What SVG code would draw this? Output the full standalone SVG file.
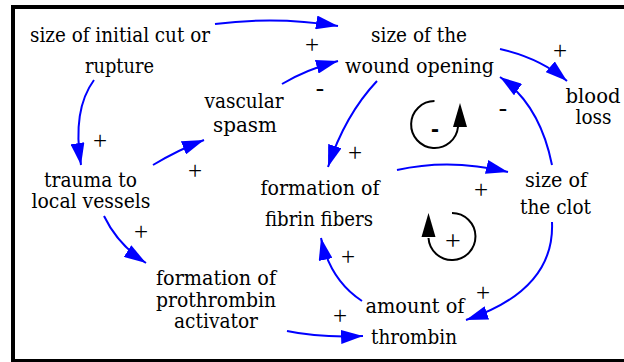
<svg xmlns="http://www.w3.org/2000/svg" width="624" height="362" viewBox="0 0 624 362">
<style>
.n{font-family:'DejaVu Serif',serif;font-size:21px;fill:#000;text-anchor:middle}
.s{font-family:'Liberation Serif',serif;font-size:25px;fill:#000;text-anchor:middle}
.c{fill:none;stroke:#0000ff;stroke-width:2;marker-end:url(#ah)}
.l{fill:none;stroke:#000;stroke-width:2}
</style>
<defs>
<marker id="ah" viewBox="0 0 22 14" refX="22" refY="7" markerWidth="22" markerHeight="14" markerUnits="userSpaceOnUse" orient="auto">
<path d="M0,0 L22,7 L0,14 z" fill="#0000ff"/>
</marker>
</defs>
<rect x="13" y="7" width="620" height="354" fill="#fff" stroke="#000" stroke-width="4"/>
<g id="connectors">
<path class="c" d="M215,24 Q277,16 338,26"/>
<path class="c" d="M94,80 Q72,110 81,165"/>
<path class="c" d="M153,165 Q178,150 204,140"/>
<path class="c" d="M282,84 Q305,70 338,61"/>
<path class="c" d="M500,49 Q540,58 567,81"/>
<path class="c" d="M377,81 Q345,115 328,167"/>
<path class="c" d="M397,170 Q450,158 508,172"/>
<path class="c" d="M552,165 Q540,105 500,77"/>
<path class="c" d="M552,222 Q555,290 466,320"/>
<path class="c" d="M362,301 Q330,280 321,238"/>
<path class="c" d="M287,331 Q320,338 363,336"/>
<path class="c" d="M104,216 Q118,245 146,263"/>
</g>
<g id="polarities">
<text class="s" x="312" y="53">+</text>
<text class="s" x="100" y="149">+</text>
<text class="s" x="195" y="179">+</text>
<text class="s" x="320" y="96">-</text>
<text class="s" x="560" y="59">+</text>
<text class="s" x="503" y="116">-</text>
<text class="s" x="355" y="161">+</text>
<text class="s" x="481" y="198">+</text>
<text class="s" x="348" y="265">+</text>
<text class="s" x="483" y="301">+</text>
<text class="s" x="340" y="324">+</text>
<text class="s" x="141" y="240">+</text>
</g>
<g id="loop-balancing">
<path class="l" d="M434.5,101 A23.5,23.5 0 1 0 458,127"/>
<path d="M460,103 L467,127 L453,127 z" fill="#000"/>
<text x="435" y="137" font-family="Liberation Sans, Arial, sans-serif" font-size="24" font-weight="bold" text-anchor="middle">-</text>
</g>
<g id="loop-reinforcing">
<path class="l" d="M452,213 A23.5,23.5 0 1 1 428.5,238"/>
<path d="M428.5,213 L435.5,237 L421.5,237 z" fill="#000"/>
<text x="453" y="250" font-family="Liberation Serif, serif" font-size="28" text-anchor="middle">+</text>
</g>
<g id="node-cut"><text class="n" x="120" y="42" textLength="180" lengthAdjust="spacingAndGlyphs">size of initial cut or</text><text class="n" x="119.5" y="73" textLength="69" lengthAdjust="spacingAndGlyphs">rupture</text></g>
<g id="node-wound"><text class="n" x="419" y="42" textLength="96" lengthAdjust="spacingAndGlyphs">size of the</text><text class="n" x="419.5" y="73" textLength="149" lengthAdjust="spacingAndGlyphs">wound opening</text></g>
<g id="node-blood"><text class="n" x="593" y="103" textLength="55" lengthAdjust="spacingAndGlyphs">blood</text><text class="n" x="593.5" y="124" textLength="36" lengthAdjust="spacingAndGlyphs">loss</text></g>
<g id="node-spasm"><text class="n" x="244" y="108" textLength="79" lengthAdjust="spacingAndGlyphs">vascular</text><text class="n" x="245" y="131.5" textLength="64" lengthAdjust="spacingAndGlyphs">spasm</text></g>
<g id="node-trauma"><text class="n" x="90.5" y="187" textLength="93" lengthAdjust="spacingAndGlyphs">trauma to</text><text class="n" x="91" y="208" textLength="119" lengthAdjust="spacingAndGlyphs">local vessels</text></g>
<g id="node-prothrombin"><text class="n" x="216" y="285" textLength="120" lengthAdjust="spacingAndGlyphs">formation of</text><text class="n" x="216" y="306.5" textLength="120" lengthAdjust="spacingAndGlyphs">prothrombin</text><text class="n" x="216" y="328" textLength="84" lengthAdjust="spacingAndGlyphs">activator</text></g>
<g id="node-fibrin"><text class="n" x="320" y="195" textLength="119" lengthAdjust="spacingAndGlyphs">formation of</text><text class="n" x="319" y="226" textLength="108" lengthAdjust="spacingAndGlyphs">fibrin fibers</text></g>
<g id="node-clot"><text class="n" x="556" y="187" textLength="62" lengthAdjust="spacingAndGlyphs">size of</text><text class="n" x="555.5" y="214" textLength="71" lengthAdjust="spacingAndGlyphs">the clot</text></g>
<g id="node-thrombin"><text class="n" x="415" y="313" textLength="99" lengthAdjust="spacingAndGlyphs">amount of</text><text class="n" x="414" y="344" textLength="86" lengthAdjust="spacingAndGlyphs">thrombin</text></g>
</svg>
